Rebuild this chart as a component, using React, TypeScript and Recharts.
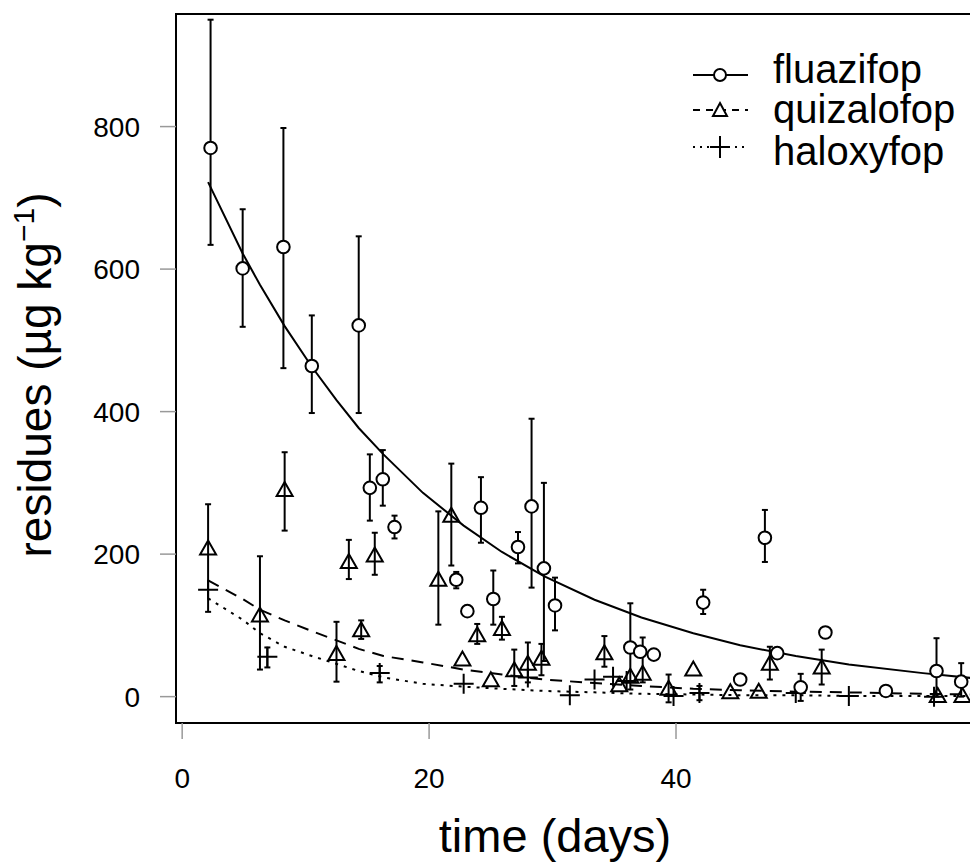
import React from 'react';
import { ComposedChart, Line, Scatter, XAxis, YAxis, ErrorBar, ReferenceArea } from 'recharts';

const FONT = '"Liberation Sans", Arial, Helvetica, sans-serif';

// fluazifop observations (days, residues, error low, error high)
const fluazifopDays = [2.3, 4.9, 8.2, 10.5, 14.3, 15.2, 16.25, 17.2, 22.2, 23.1, 24.2, 25.2, 27.2, 28.3, 29.3, 30.2, 36.3, 37.1, 38.2, 42.2, 45.2, 47.2, 48.2, 50.1, 52.1, 57.0, 61.1, 63.1];
const fluazifopResidues = [770, 601, 631, 464, 521, 293, 305, 238, 164, 120, 265, 137, 210, 267, 180, 128, 69, 63, 59, 132, 24, 223, 61, 13, 90, 8, 36, 21];
const fluazifopLow = [634, 519, 461, 398, 398, 247, 268, 222, 152, null, 216, 101, 187, 153, 50, 93, 10, null, null, 116, null, 189, null, -6, null, null, 0, 0];
const fluazifopHigh = [950, 684, 798, 535, 646, 340, 346, 254, 175, null, 308, 177, 231, 390, 300, 167, 131, null, null, 150, null, 262, null, 32, null, null, 82, 47];

// quizalofop observations
const quizalofopDays = [2.1, 6.3, 8.3, 12.5, 13.5, 14.5, 15.6, 20.75, 21.8, 22.7, 23.9, 25.0, 25.9, 26.9, 28.0, 29.1, 34.2, 35.4, 36.3, 37.3, 39.4, 41.4, 44.4, 46.7, 47.6, 51.8, 61.2, 63.2];
const quizalofopResidues = [208, 114, 290, 60, 189, 93, 198, 164, 254, 52, 86, 23, 95, 37, 46, 53, 61, 16, 28, 32, 11, 38, 6, 7, 46, 41, 1, 1];
const quizalofopLow = [119, 38, 233, 21, 165, 81, 171, 101, 184, null, 74, null, 80, 15, 20, 30, 42, null, null, 20, -8, null, null, null, 24, 17, null, null];
const quizalofopHigh = [270, 197, 343, 105, 220, 107, 230, 260, 327, null, 102, null, 112, 66, 76, 74, 85, null, null, 83, 31, null, null, null, 70, 66, null, null];

// haloxyfop observations
const haloxyfopDays = [2.1, 6.9, 16.0, 22.8, 28.0, 31.4, 33.4, 34.9, 36.0, 39.8, 41.9, 49.7, 54.0, 60.9];
const haloxyfopResidues = [150, 56, 33, 18, 27, 2, 24, 28, 22, 1, 5, 5, 1, 0];
const haloxyfopLow = [null, 41, 20, null, null, null, null, null, null, null, -5, null, null, null];
const haloxyfopHigh = [null, 69, 43, null, null, null, null, null, null, null, 15, null, null, null];

// fitted decay curves
const fitDays = [2.1, 4.9, 6.3, 8.3, 10.5, 12.5, 14.3, 16.3, 19.5, 22.8, 25.9, 29.3, 33.4, 37.2, 41.4, 45.2, 49.7, 54, 60, 64];
const fluazifopFit = [722, 622, 578, 520, 463, 416, 377, 340, 286, 240, 203, 169, 136, 111, 89, 72, 57, 45, 33, 26];
const quizalofopFit = [163, 137, 122, 107, 92, 79, 67, 57, 48, 38, 31, 24, 19, 15, 11, 9, 7, 6, 4, 3];
const haloxyfopFit = [138, 108, 89, 70, 57, 46, 36, 27, 18, 14, 11, 8, 6, 4, 3, 2, 2, 1, 1, 1];

const xTicks = [0, 20, 40];
const yTicks = [0, 200, 400, 600, 800];
const seriesNames = ['fluazifop', 'quizalofop', 'haloxyfop'];

function buildPoints(days: number[], vals: number[], low: (number | null)[], high: (number | null)[]) {
  return days.map((x, i) => ({
    x,
    y: vals[i],
    err: low[i] == null ? undefined : [vals[i] - (low[i] as number), (high[i] as number) - vals[i]],
  }));
}

function buildFit(vals: number[]) {
  return fitDays.map((x, i) => ({ x, y: vals[i] }));
}

const fluazifopPts = buildPoints(fluazifopDays, fluazifopResidues, fluazifopLow, fluazifopHigh);
const quizalofopPts = buildPoints(quizalofopDays, quizalofopResidues, quizalofopLow, quizalofopHigh);
const haloxyfopPts = buildPoints(haloxyfopDays, haloxyfopResidues, haloxyfopLow, haloxyfopHigh);

const CircleShape = (p: any) => (
  <circle cx={p.cx} cy={p.cy} r={6.3} fill="#fff" stroke="#000" strokeWidth={2} />
);
const TriangleShape = (p: any) => (
  <path
    d={`M${p.cx},${p.cy - 8}L${p.cx + 8},${p.cy + 6}L${p.cx - 8},${p.cy + 6}Z`}
    fill="none"
    stroke="#000"
    strokeWidth={2}
  />
);
const PlusShape = (p: any) => (
  <path
    d={`M${p.cx - 10},${p.cy}H${p.cx + 10}M${p.cx},${p.cy - 10}V${p.cy + 10}`}
    fill="none"
    stroke="#000"
    strokeWidth={2}
  />
);

const tickStyle = { fill: '#000', fontSize: 28, fontFamily: FONT };
const tickLineStyle = { stroke: '#999', strokeWidth: 1.5 };

function LegendBox() {
  const rows = [
    { y: 55, ty: 63, dash: undefined as string | undefined },
    { y: 90, ty: 103, dash: '7 6' },
    { y: 127, ty: 145, dash: '2 5' },
  ];
  return (
    <svg width={290} height={170} style={{ position: 'absolute', left: 680, top: 20 }}>
      {rows.map((r, i) => (
        <g key={i}>
          <line x1={13} x2={68} y1={r.y} y2={r.y} stroke="#000" strokeWidth={2} strokeDasharray={r.dash} />
          {i === 0 && <circle cx={40} cy={r.y} r={6} fill="#fff" stroke="#000" strokeWidth={2} />}
          {i === 1 && (
            <path d={`M40,${r.y - 7}L47,${r.y + 6}L33,${r.y + 6}Z`} fill="#fff" stroke="#000" strokeWidth={2} />
          )}
          {i === 2 && (
            <path d={`M30,${r.y}H50M40,${r.y - 11}V${r.y + 11}`} stroke="#000" strokeWidth={2} fill="none" />
          )}
          <text x={93} y={r.ty} fontSize={40} fontFamily={FONT} fill="#000">
            {seriesNames[i]}
          </text>
        </g>
      ))}
    </svg>
  );
}

export default function App() {
  return (
    <div style={{ position: 'fixed', left: 0, top: 0, width: 970, height: 865, overflow: 'hidden', background: '#fff' }}>
      <ComposedChart width={1010} height={865} margin={{ top: 14, right: 13, bottom: 0, left: 0 }}>
        <XAxis
          dataKey="x"
          type="number"
          domain={[-0.5, 66]}
          allowDataOverflow
          ticks={xTicks}
          interval={0}
          height={142}
          tickSize={16}
          tickMargin={29}
          axisLine={false}
          tickLine={tickLineStyle}
          tick={tickStyle}
          label={{
            content: () => (
              <text x={555} y={852} textAnchor="middle" fontSize={47} fontFamily={FONT} fill="#000">
                time (days)
              </text>
            ),
          }}
        />
        <YAxis
          type="number"
          domain={[-37, 958]}
          allowDataOverflow
          ticks={yTicks}
          interval={0}
          width={176}
          tickSize={16}
          tickMargin={20}
          axisLine={false}
          tickLine={tickLineStyle}
          tick={tickStyle}
          label={{
            content: () => (
              <text
                x={51}
                y={375}
                transform="rotate(-90, 51, 375)"
                textAnchor="middle"
                fontSize={46}
                fontFamily={FONT}
                fill="#000"
              >
                residues (µg kg
                <tspan dy={-17} fontSize={30}>−1</tspan>
                <tspan dy={17} fontSize={46}>)</tspan>
              </text>
            ),
          }}
        />
        <ReferenceArea x1={-0.5} x2={66} y1={-37} y2={958} fill="none" stroke="#000" strokeWidth={2} ifOverflow="visible" />
        <Line data={buildFit(fluazifopFit)} dataKey="y" type="linear" stroke="#000" strokeWidth={2} dot={false} isAnimationActive={false} />
        <Line data={buildFit(quizalofopFit)} dataKey="y" type="linear" stroke="#000" strokeWidth={2} strokeDasharray="12 8" dot={false} isAnimationActive={false} />
        <Line data={buildFit(haloxyfopFit)} dataKey="y" type="linear" stroke="#000" strokeWidth={2} strokeDasharray="3 6" dot={false} isAnimationActive={false} />
        <Scatter data={haloxyfopPts} dataKey="y" shape={PlusShape} isAnimationActive={false}>
          <ErrorBar dataKey="err" direction="y" width={3} stroke="#000" strokeWidth={2} />
        </Scatter>
        <Scatter data={quizalofopPts} dataKey="y" shape={TriangleShape} isAnimationActive={false}>
          <ErrorBar dataKey="err" direction="y" width={3} stroke="#000" strokeWidth={2} />
        </Scatter>
        <Scatter data={fluazifopPts} dataKey="y" shape={CircleShape} isAnimationActive={false}>
          <ErrorBar dataKey="err" direction="y" width={3} stroke="#000" strokeWidth={2} />
        </Scatter>
      </ComposedChart>
      <LegendBox />
    </div>
  );
}
